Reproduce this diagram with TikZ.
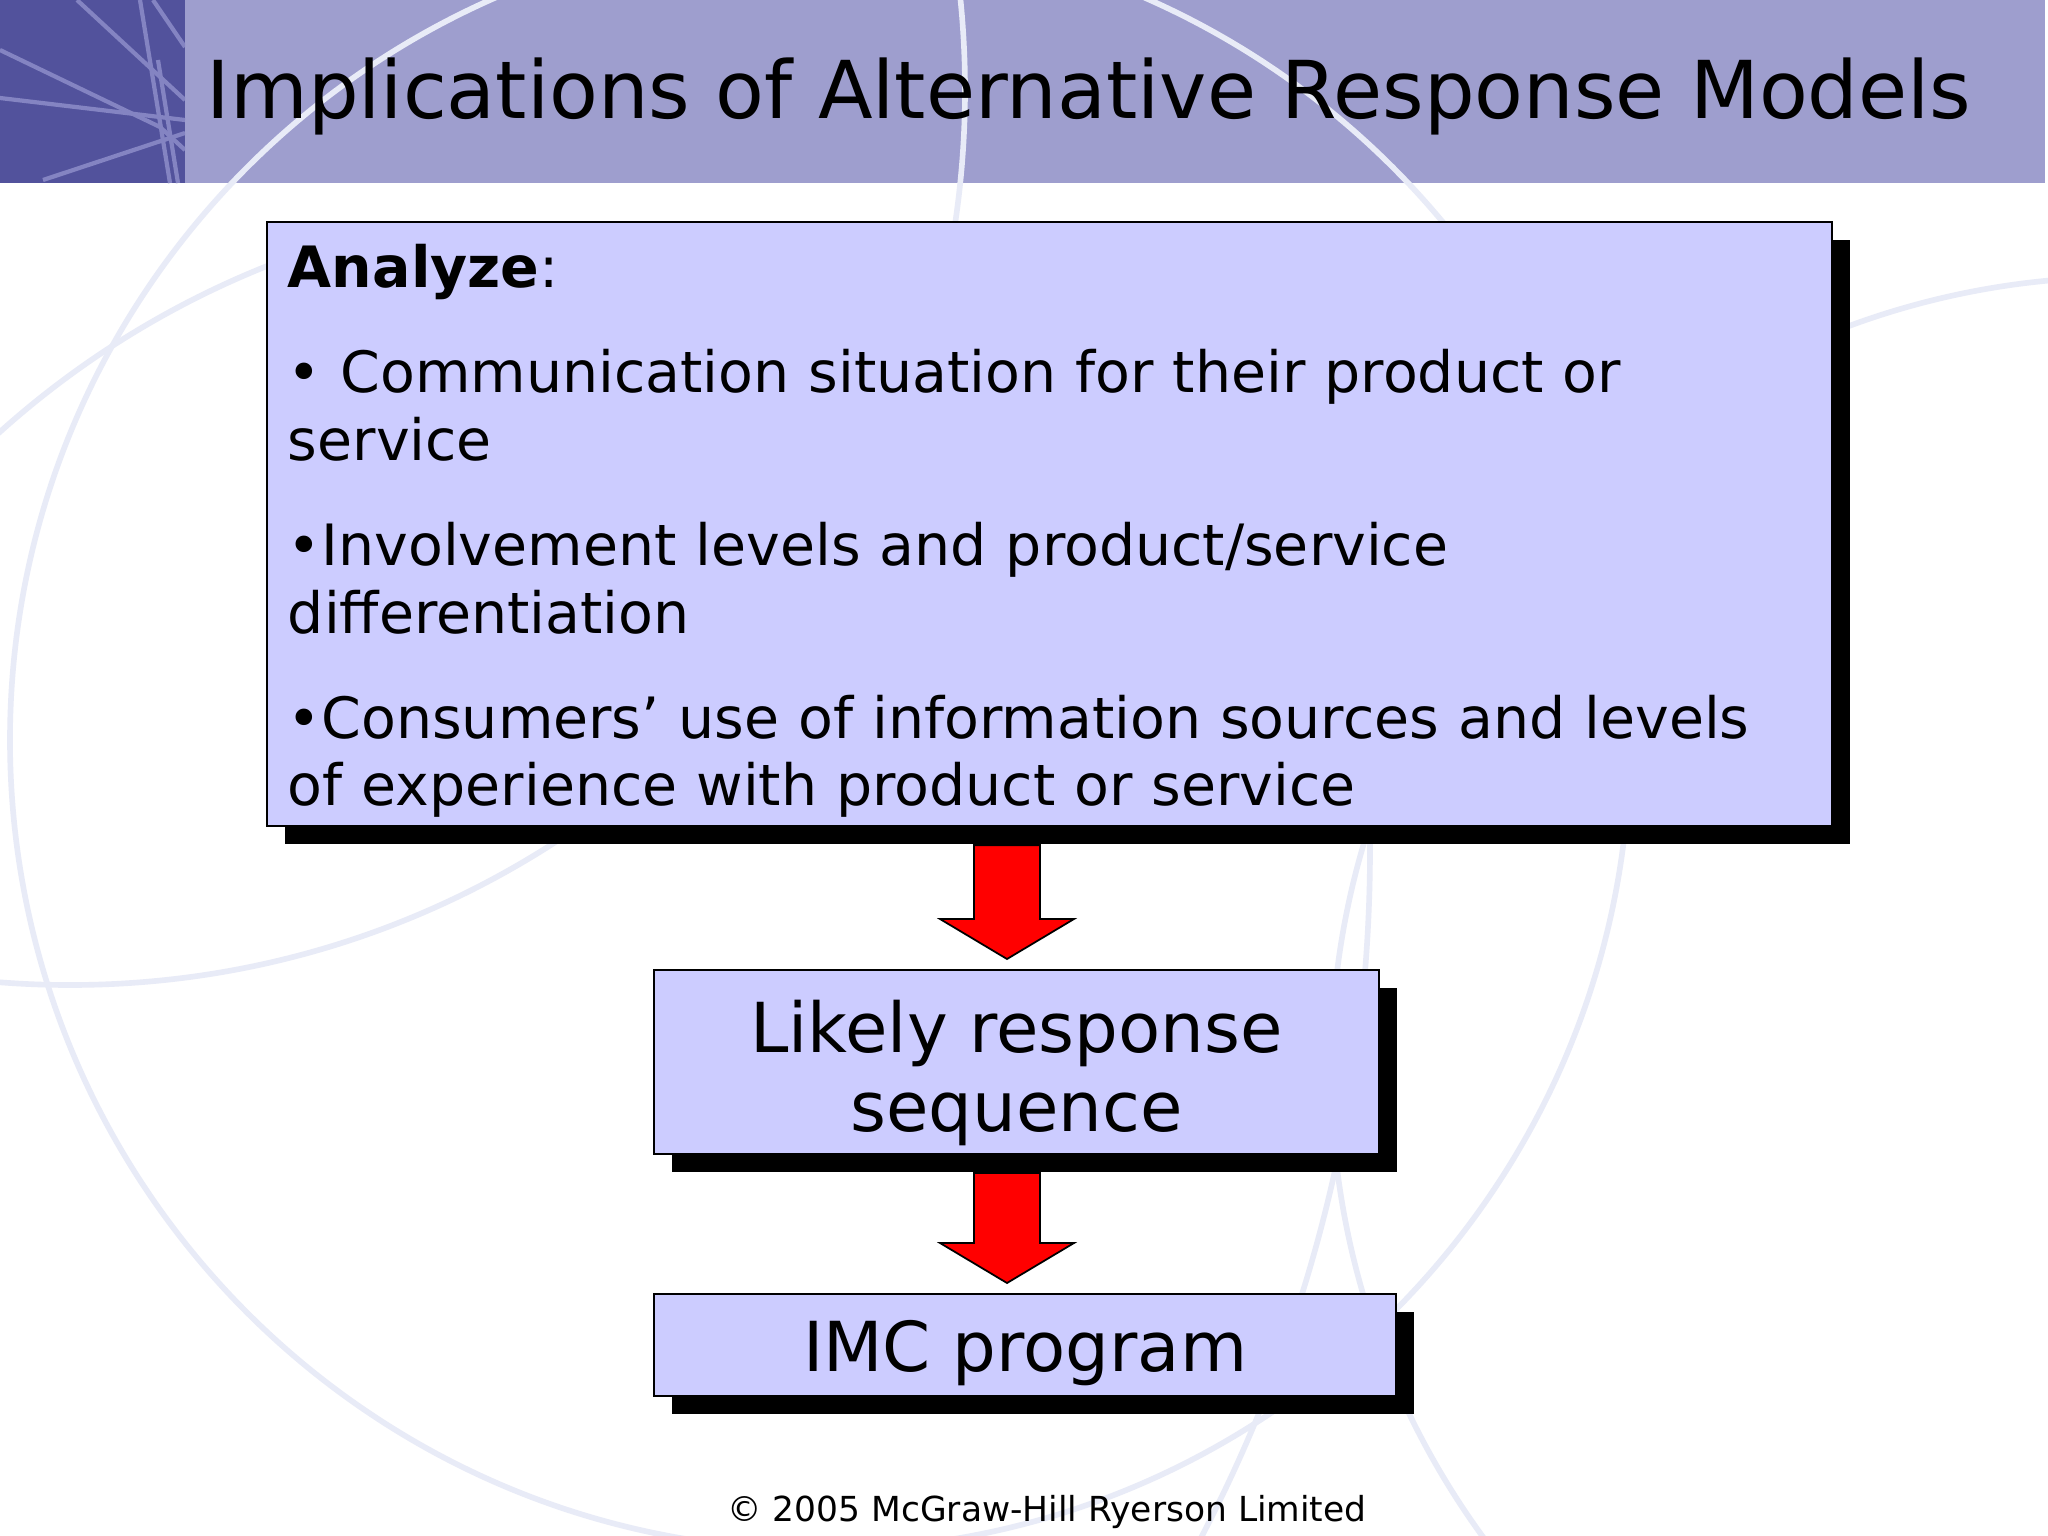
\documentclass[tikz,border=0pt]{standalone}
\usepackage{fontspec}
\setmainfont{DejaVu Sans}
\usetikzlibrary{calc,shadows}
\definecolor{barblue}{HTML}{9E9ECE}
\definecolor{cornerblue}{HTML}{52529C}
\definecolor{cornerline}{HTML}{8484C2}
\definecolor{boxlilac}{HTML}{CCCCFF}
\definecolor{ringblue}{HTML}{E8EBF7}

\tikzset{
  flowbox/.style={draw=black, line width=0.5pt, fill=boxlilac,
    drop shadow={fill=black, opacity=1, shadow xshift=0.18cm, shadow yshift=-0.18cm}},
  redarrow/.style={draw=black, line width=0.5pt, fill=red},
  ring/.style={draw=ringblue, line width=1.6pt},
  cornerstroke/.style={draw=cornerline, line width=1.2pt}
}

% block arrow from the shadow of #1 down to #2
\newcommand{\blockarrow}[2]{%
  \draw[redarrow] ($(#1.south -| #2.north west)+(321,18)$) -- ($(#1.south -| #2.north west)+(387,18)$)
    -- ($(#2.north west)+(387,-50)$) -- ($(#2.north west)+(421,-50)$)
    -- ($(#2.north west)+(354,-10)$)
    -- ($(#2.north west)+(287,-50)$) -- ($(#2.north west)+(321,-50)$) -- cycle;}

\begin{document}
\begin{tikzpicture}[x=0.01cm, y=-0.01cm]
  \useasboundingbox (0,0) rectangle (2048,1536);
  \fill[white] (0,0) rectangle (2048,1536);

  % title bar
  \fill[barblue] (0,0) rectangle (2045,183);
  \fill[cornerblue] (0,0) rectangle (185,183);
  \begin{scope}
    \clip (0,0) rectangle (185,183);
    \draw[cornerstroke] (0,50) -- (160,127) -- (185,150);
    \draw[cornerstroke] (77,0) -- (185,100);
    \draw[cornerstroke] (140,0) -- (170,183);
    \draw[cornerstroke] (153,0) -- (185,47);
    \draw[cornerstroke] (0,98) -- (185,120);
    \draw[cornerstroke] (43,180) -- (185,133);
    \draw[cornerstroke] (158,60) -- (178,183);
  \end{scope}

  % background rings
  \begin{scope}
    \clip (0,0) rectangle (2048,1536);
    \draw[ring] (820,740) circle[radius=810];
    \draw[ring] (70,90) circle[radius=895];
    \draw[ring] (2124,1070) circle[radius=793];
    \draw[ring] (-114,850) ++(-3:1484) arc[start angle=-3, end angle=35, radius=1484];
    \draw[ring] (600,1100) ++(-145:898) arc[start angle=-145, end angle=-111, radius=898];
  \end{scope}

  \node[anchor=base west, inner sep=0pt, font=\fontsize{22.7}{27}\selectfont] (title) at (206,118)
    {Implications of Alternative Response Models};

  % boxes
  \node[flowbox, anchor=north west, text width=15.22cm, inner xsep=0.21cm, inner ysep=0pt,
    text height=0.66cm, text depth=5.38cm, align=left,
    font=\fontsize{16.2}{19.3}\selectfont] (analyze) at (266,221)
    {\textbf{Analyze}:\\[10.5pt]
     • Communication situation for their product or\\service\\[10.5pt]
     •Involvement levels and product/service\\differentiation\\[10.5pt]
     •Consumers’ use of information sources and levels\\of experience with product or service};

  \node[flowbox, anchor=north west, minimum width=7.25cm, inner ysep=0pt,
    text height=1.62cm, text depth=0.22cm, align=center,
    font=\fontsize{19.6}{22.7}\selectfont] (respseq) at (653,969)
    {Likely response\\sequence};

  \node[flowbox, anchor=north west, minimum width=7.42cm, inner ysep=0pt,
    text height=0.78cm, text depth=0.24cm,
    font=\fontsize{19.6}{25}\selectfont] (imc) at (653,1293)
    {IMC program};

  % arrows
  \blockarrow{analyze}{respseq}
  \blockarrow{respseq}{imc}

  \node[anchor=base, font=\fontsize{9.8}{11}\selectfont] (credit) at (1047,1521)
    {© 2005 McGraw-Hill Ryerson Limited};
\end{tikzpicture}
\end{document}
